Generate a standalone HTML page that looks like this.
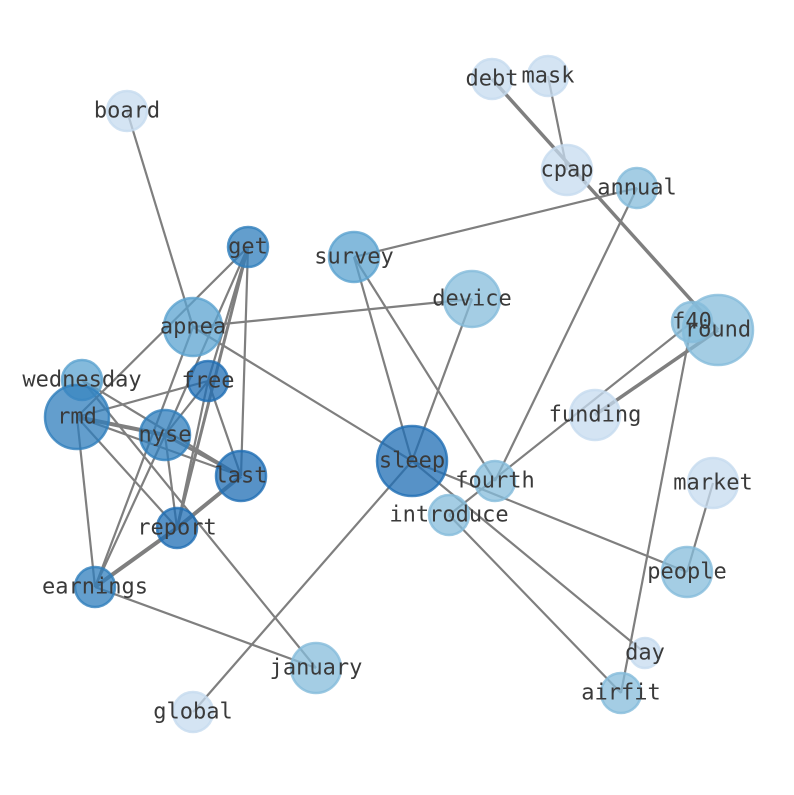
<!DOCTYPE html>
<html><head><meta charset="utf-8"><style>html,body{margin:0;padding:0;background:#fff}</style></head><body>
<svg width="794" height="790" xmlns="http://www.w3.org/2000/svg">
<g stroke="#7f7f7f" stroke-width="2.2" fill="none">
<line x1="127" y1="111" x2="193" y2="327"/>
<line x1="492" y1="79" x2="718" y2="330" stroke-width="3.5"/>
<line x1="548" y1="76" x2="567" y2="170"/>
<line x1="637" y1="188" x2="354" y2="257"/>
<line x1="637" y1="188" x2="495" y2="481"/>
<line x1="248" y1="247" x2="77" y2="417"/>
<line x1="248" y1="247" x2="165" y2="435"/>
<line x1="248" y1="247" x2="177" y2="528" stroke-width="3"/>
<line x1="248" y1="247" x2="241" y2="476"/>
<line x1="248" y1="247" x2="208" y2="381"/>
<line x1="193" y1="327" x2="472" y2="299"/>
<line x1="193" y1="327" x2="412" y2="461"/>
<line x1="193" y1="327" x2="95" y2="587"/>
<line x1="354" y1="257" x2="412" y2="461"/>
<line x1="354" y1="257" x2="495" y2="481"/>
<line x1="472" y1="299" x2="412" y2="461"/>
<line x1="412" y1="461" x2="193" y2="712"/>
<line x1="412" y1="461" x2="687" y2="572"/>
<line x1="412" y1="461" x2="645" y2="653"/>
<line x1="449" y1="515" x2="692" y2="322"/>
<line x1="449" y1="515" x2="621" y2="693"/>
<line x1="595" y1="415" x2="718" y2="330" stroke-width="3.5"/>
<line x1="692" y1="322" x2="621" y2="693"/>
<line x1="713" y1="483" x2="687" y2="572"/>
<line x1="77" y1="417" x2="208" y2="381"/>
<line x1="77" y1="417" x2="165" y2="435" stroke-width="4"/>
<line x1="77" y1="417" x2="241" y2="476"/>
<line x1="77" y1="417" x2="177" y2="528"/>
<line x1="77" y1="417" x2="95" y2="587"/>
<line x1="82" y1="380" x2="241" y2="476"/>
<line x1="82" y1="380" x2="316" y2="668"/>
<line x1="165" y1="435" x2="241" y2="476" stroke-width="3"/>
<line x1="165" y1="435" x2="177" y2="528"/>
<line x1="165" y1="435" x2="95" y2="587"/>
<line x1="208" y1="381" x2="165" y2="435"/>
<line x1="208" y1="381" x2="241" y2="476"/>
<line x1="208" y1="381" x2="177" y2="528"/>
<line x1="241" y1="476" x2="177" y2="528" stroke-width="4"/>
<line x1="177" y1="528" x2="95" y2="587" stroke-width="4"/>
<line x1="95" y1="587" x2="316" y2="668"/>
</g>
<g stroke-width="2.5" fill-opacity="0.75" stroke-opacity="0.8">
<circle cx="127" cy="111" r="20" fill="#c6dbef" stroke="#c6dbef"/>
<circle cx="492" cy="79" r="20" fill="#c6dbef" stroke="#c6dbef"/>
<circle cx="548" cy="76" r="20" fill="#c6dbef" stroke="#c6dbef"/>
<circle cx="567" cy="170" r="25" fill="#c6dbef" stroke="#c6dbef"/>
<circle cx="637" cy="188" r="20" fill="#85bcdb" stroke="#85bcdb"/>
<circle cx="248" cy="247" r="20" fill="#2f7ebc" stroke="#2f7ebc"/>
<circle cx="354" cy="257" r="25" fill="#5ba3d0" stroke="#5ba3d0"/>
<circle cx="472" cy="299" r="28" fill="#85bcdb" stroke="#85bcdb"/>
<circle cx="193" cy="327" r="29" fill="#5ba3d0" stroke="#5ba3d0"/>
<circle cx="718" cy="330" r="35" fill="#85bcdb" stroke="#85bcdb"/>
<circle cx="692" cy="322" r="20" fill="#85bcdb" stroke="#85bcdb"/>
<circle cx="82" cy="380" r="20" fill="#5ba3d0" stroke="#5ba3d0"/>
<circle cx="77" cy="417" r="32" fill="#2f7ebc" stroke="#2f7ebc"/>
<circle cx="208" cy="381" r="20" fill="#1f6eb4" stroke="#1f6eb4"/>
<circle cx="165" cy="435" r="25" fill="#2f7ebc" stroke="#2f7ebc"/>
<circle cx="595" cy="415" r="25" fill="#c6dbef" stroke="#c6dbef"/>
<circle cx="412" cy="461" r="35" fill="#1f6eb4" stroke="#1f6eb4"/>
<circle cx="241" cy="476" r="25" fill="#1f6eb4" stroke="#1f6eb4"/>
<circle cx="495" cy="481" r="20" fill="#85bcdb" stroke="#85bcdb"/>
<circle cx="713" cy="483" r="25" fill="#c6dbef" stroke="#c6dbef"/>
<circle cx="449" cy="515" r="20" fill="#85bcdb" stroke="#85bcdb"/>
<circle cx="177" cy="528" r="20" fill="#1f6eb4" stroke="#1f6eb4"/>
<circle cx="687" cy="572" r="25" fill="#85bcdb" stroke="#85bcdb"/>
<circle cx="95" cy="587" r="20" fill="#2f7ebc" stroke="#2f7ebc"/>
<circle cx="645" cy="653" r="15" fill="#c6dbef" stroke="#c6dbef"/>
<circle cx="316" cy="668" r="25" fill="#85bcdb" stroke="#85bcdb"/>
<circle cx="621" cy="693" r="20" fill="#85bcdb" stroke="#85bcdb"/>
<circle cx="193" cy="712" r="20" fill="#c6dbef" stroke="#c6dbef"/>
</g>
<g font-family="DejaVu Sans Mono, Liberation Mono, monospace" font-size="22" fill="#3a3a3a" text-anchor="middle" dominant-baseline="central">
<text x="127" y="111">board</text>
<text x="492" y="79">debt</text>
<text x="548" y="76">mask</text>
<text x="567" y="170">cpap</text>
<text x="637" y="188">annual</text>
<text x="248" y="247">get</text>
<text x="354" y="257">survey</text>
<text x="472" y="299">device</text>
<text x="193" y="327">apnea</text>
<text x="692" y="322">f40</text>
<text x="718" y="330">round</text>
<text x="82" y="380">wednesday</text>
<text x="208" y="381">free</text>
<text x="77" y="417">rmd</text>
<text x="165" y="435">nyse</text>
<text x="595" y="415">funding</text>
<text x="412" y="461">sleep</text>
<text x="241" y="476">last</text>
<text x="495" y="481">fourth</text>
<text x="713" y="483">market</text>
<text x="449" y="515">introduce</text>
<text x="177" y="528">report</text>
<text x="687" y="572">people</text>
<text x="95" y="587">earnings</text>
<text x="645" y="653">day</text>
<text x="316" y="668">january</text>
<text x="621" y="693">airfit</text>
<text x="193" y="712">global</text>
</g>
</svg>
</body></html>
